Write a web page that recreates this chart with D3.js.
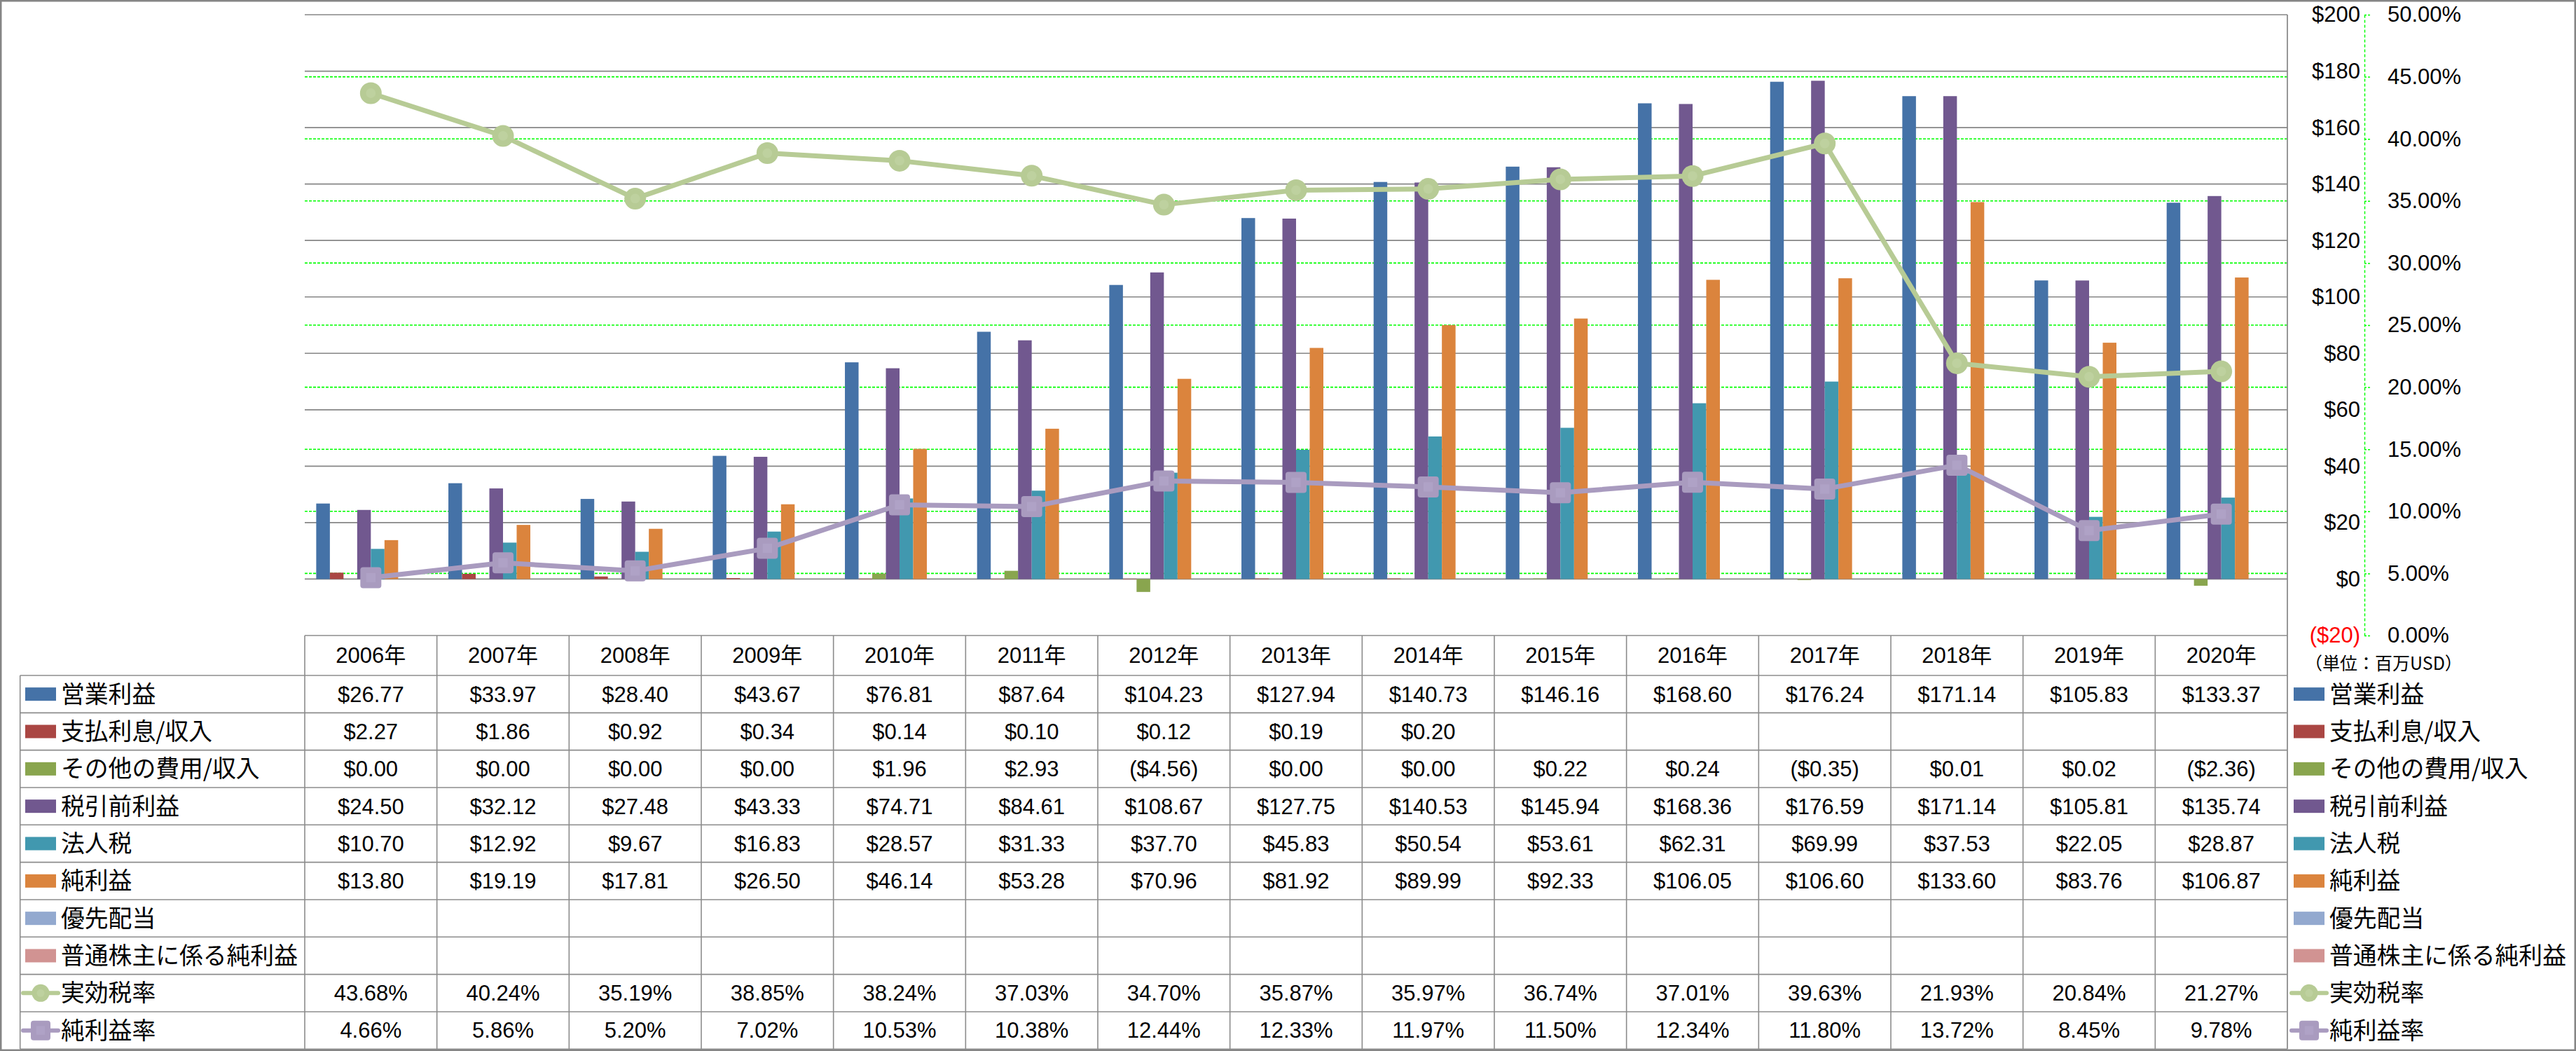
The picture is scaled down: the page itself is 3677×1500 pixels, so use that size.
<!DOCTYPE html>
<html><head><meta charset="utf-8">
<script src="https://cdn.jsdelivr.net/npm/d3@7"></script>
<style>
html,body{margin:0;padding:0;background:#fff;}
svg{display:block;}
text{font-family:"Liberation Sans","Noto Sans CJK JP",sans-serif;fill:#000;}
.jp{font-family:"Noto Sans CJK JP",sans-serif;}
</style></head><body>
<svg id="c" width="3677" height="1500"></svg>
<script>
// ---------------- data ----------------
const years = ["2006年","2007年","2008年","2009年","2010年","2011年","2012年","2013年","2014年","2015年","2016年","2017年","2018年","2019年","2020年"];
const barSeries = ["営業利益","支払利息/収入","その他の費用/収入","税引前利益","法人税","純利益","優先配当","普通株主に係る純利益"];
const lineSeries = ["実効税率","純利益率"];
const operatingIncome = [26.77,33.97,28.40,43.67,76.81,87.64,104.23,127.94,140.73,146.16,168.60,176.24,171.14,105.83,133.37];
const interestExpense = [2.27,1.86,0.92,0.34,0.14,0.10,0.12,0.19,0.20,null,null,null,null,null,null];
const otherExpense = [0.00,0.00,0.00,0.00,1.96,2.93,-4.56,0.00,0.00,0.22,0.24,-0.35,0.01,0.02,-2.36];
const pretaxIncome = [24.50,32.12,27.48,43.33,74.71,84.61,108.67,127.75,140.53,145.94,168.36,176.59,171.14,105.81,135.74];
const incomeTax = [10.70,12.92,9.67,16.83,28.57,31.33,37.70,45.83,50.54,53.61,62.31,69.99,37.53,22.05,28.87];
const netIncome = [13.80,19.19,17.81,26.50,46.14,53.28,70.96,81.92,89.99,92.33,106.05,106.60,133.60,83.76,106.87];
const preferredDividends = [null,null,null,null,null,null,null,null,null,null,null,null,null,null,null];
const commonNetIncome = [null,null,null,null,null,null,null,null,null,null,null,null,null,null,null];
const effectiveTaxRate = [43.68,40.24,35.19,38.85,38.24,37.03,34.70,35.87,35.97,36.74,37.01,39.63,21.93,20.84,21.27];
const netMargin = [4.66,5.86,5.20,7.02,10.53,10.38,12.44,12.33,11.97,11.50,12.34,11.80,13.72,8.45,9.78];
const dollarTicks = [-20,0,20,40,60,80,100,120,140,160,180,200];
const percentTicks = [0,5,10,15,20,25,30,35,40,45,50];
const unitLabel = "（単位：百万USD）";

// ---------------- styles ----------------
const barColors = ["#4572a7","#aa4643","#89a54e","#71588f","#4198af","#db843d","#93a9cf","#d19392"];
const lineColors = ["#b7cb95","#a99bbf"];
const barValues = [operatingIncome,interestExpense,otherExpense,pretaxIncome,incomeTax,netIncome,preferredDividends,commonNetIncome];
const lineValues = [effectiveTaxRate,netMargin];

const W = 3677, H = 1500;
const plot = {left:435, right:3265, top:21, bottom:907};
const tableTop = 907, headerBottom = 964, rowH = 53.33, tableLeft = 28.7;
const axisX = 3375;
const gridGray = "#868686", tableGray = "#8c8c8c", green = "#00ff00";
const numSize = 31, jpSize = 33.8;

const svg = d3.select("#c");

const x0 = d3.scaleBand().domain(years).range([plot.left, plot.right]);
const x1 = d3.scaleBand().domain(barSeries).range([0, x0.bandwidth()]).paddingOuter(0.84);
const yL = d3.scaleLinear().domain([-20,200]).range([plot.bottom, plot.top]);
const yR = d3.scaleLinear().domain([0,50]).range([plot.bottom, plot.top]);

// outer frame
svg.append("rect").attr("x",1.25).attr("y",1.25).attr("width",W-2.5).attr("height",H-2.5)
  .attr("fill","#fff").attr("stroke","#868686").attr("stroke-width",2.5);

// gray gridlines ($ axis)
svg.append("g").selectAll("line").data(dollarTicks.filter(d=>d>=0)).join("line")
  .attr("x1",plot.left).attr("x2",plot.right)
  .attr("y1",d=>yL(d)).attr("y2",d=>yL(d))
  .attr("stroke",gridGray).attr("stroke-width",1.7);

// green dashed gridlines (% axis)
svg.append("g").selectAll("line").data(percentTicks.filter(d=>d>0&&d<50)).join("line")
  .attr("x1",plot.left).attr("x2",plot.right)
  .attr("y1",d=>yR(d)).attr("y2",d=>yR(d))
  .attr("stroke",green).attr("stroke-width",1.6).attr("stroke-dasharray","4,2");

// bars
const barData = [];
barSeries.forEach((s,i)=>{
  barValues[i].forEach((v,j)=>{ if(v!==null) barData.push({s, i, year:years[j], v}); });
});
svg.append("g").selectAll("rect").data(barData).join("rect")
  .attr("x",d=>x0(d.year)+x1(d.s))
  .attr("width",x1.bandwidth())
  .attr("y",d=>yL(Math.max(0,d.v)))
  .attr("height",d=>Math.abs(yL(d.v)-yL(0)))
  .attr("fill",d=>barColors[d.i]);

// lines
function drawMarker(g, kind, color, cx, cy, size){
  if(kind===0){
    g.append("circle").attr("cx",cx).attr("cy",cy).attr("r",size/2).attr("fill",color);
    g.append("circle").attr("cx",cx).attr("cy",cy).attr("r",size/4.5).attr("fill","#bed19f");
  } else {
    g.append("rect").attr("x",cx-size/2).attr("y",cy-size/2).attr("width",size).attr("height",size)
      .attr("rx",4).attr("fill",color);
    g.append("rect").attr("x",cx-size/4.5).attr("y",cy-size/4.5).attr("width",size/2.25).attr("height",size/2.25)
      .attr("fill","#afa2c6");
  }
}
lineSeries.forEach((s,i)=>{
  const pts = lineValues[i].map((v,j)=>({x:x0(years[j])+x0.bandwidth()/2, y:yR(v)}));
  const g = svg.append("g");
  g.append("path").datum(pts)
    .attr("d",d3.line().x(d=>d.x).y(d=>d.y))
    .attr("fill","none").attr("stroke",lineColors[i]).attr("stroke-width",7)
    .attr("stroke-linejoin","round");
  pts.forEach(p=>drawMarker(g,i,lineColors[i],p.x,p.y,i===0?31:30));
});

// plot right border
svg.append("line").attr("x1",plot.right).attr("x2",plot.right).attr("y1",plot.top).attr("y2",headerBottom+10*rowH)
  .attr("stroke",gridGray).attr("stroke-width",1.7);

// $ axis labels
const fmtDollar = d => d<0 ? `($${-d})` : `$${d}`;
const axL = svg.append("g").attr("transform",`translate(${axisX},0)`)
  .call(d3.axisLeft(yL).tickValues(dollarTicks).tickSize(0).tickPadding(6).tickFormat(fmtDollar));
axL.select(".domain").remove();
axL.selectAll("text").attr("font-size",numSize).attr("font-family",null)
  .style("fill",d=>d<0?"#ff0000":"#000");

// % axis
const axR = svg.append("g").attr("transform",`translate(${axisX},0)`)
  .call(d3.axisRight(yR).tickValues(percentTicks).tickSize(9).tickSizeOuter(0).tickPadding(24).tickFormat(d=>d.toFixed(2)+"%"));
axR.select(".domain").attr("stroke",green).attr("stroke-width",1.5).attr("stroke-dasharray","4,3");
axR.selectAll(".tick line").attr("stroke",green).attr("stroke-width",1.5).attr("stroke-dasharray","3,2");
axR.selectAll("text").attr("font-size",numSize).attr("font-family",null).style("fill","#000");

// unit label
svg.append("text").attr("class","jp").attr("x",3290).attr("y",947).attr("dy","0.35em")
  .attr("font-size",25).text(unitLabel);

// ---------------- data table ----------------
const tg = svg.append("g");
const rowsCount = barSeries.length + lineSeries.length;
const tableBottom = headerBottom + rowsCount*rowH;
tg.append("line").attr("x1",plot.left).attr("x2",plot.right).attr("y1",tableTop).attr("y2",tableTop)
  .attr("stroke",tableGray).attr("stroke-width",1.6);
tg.selectAll("line.h").data(d3.range(rowsCount+1)).join("line").attr("class","h")
  .attr("x1",tableLeft).attr("x2",plot.right)
  .attr("y1",i=>headerBottom+i*rowH).attr("y2",i=>headerBottom+i*rowH)
  .attr("stroke",tableGray).attr("stroke-width",1.6);
tg.selectAll("line.v").data(years).join("line").attr("class","v")
  .attr("x1",d=>x0(d)).attr("x2",d=>x0(d)).attr("y1",tableTop).attr("y2",tableBottom)
  .attr("stroke",tableGray).attr("stroke-width",1.6);
tg.append("line").attr("x1",tableLeft).attr("x2",tableLeft).attr("y1",headerBottom).attr("y2",tableBottom)
  .attr("stroke",tableGray).attr("stroke-width",1.6);

tg.selectAll("text.yr").data(years).join("text").attr("class","yr")
  .attr("x",d=>x0(d)+x0.bandwidth()/2).attr("y",(tableTop+headerBottom)/2).attr("dy","0.35em")
  .attr("text-anchor","middle").attr("font-size",numSize).text(d=>d);

const fmtMoney = v => v===null ? "" : (v<0 ? `($${(-v).toFixed(2)})` : `$${v.toFixed(2)}`);
const fmtPct = v => v===null ? "" : v.toFixed(2)+"%";
const tableRows = barSeries.map((s,i)=>({name:s, kind:"bar", idx:i, values:barValues[i], fmt:fmtMoney}))
  .concat(lineSeries.map((s,i)=>({name:s, kind:"line", idx:i, values:lineValues[i], fmt:fmtPct})));

function legendKey(g, r, x, cy){
  if(r.kind==="bar"){
    g.append("rect").attr("x",x+3).attr("y",cy-9.5).attr("width",44).attr("height",19).attr("fill",barColors[r.idx]);
  } else {
    g.append("line").attr("x1",x).attr("x2",x+50).attr("y1",cy).attr("y2",cy)
      .attr("stroke",lineColors[r.idx]).attr("stroke-width",6).attr("stroke-linecap","round");
    drawMarker(g, r.idx, lineColors[r.idx], x+25, cy, r.idx===0?25:28);
  }
}

tableRows.forEach((r,ri)=>{
  const cy = headerBottom + ri*rowH + rowH/2;
  const g = tg.append("g");
  legendKey(g, r, 33, cy);
  g.append("text").attr("class","jp").attr("x",87).attr("y",cy).attr("dy","0.36em")
    .attr("font-size",jpSize).text(r.name);
  g.selectAll("text.val").data(r.values).join("text").attr("class","val")
    .attr("x",(v,j)=>x0(years[j])+x0.bandwidth()/2).attr("y",cy).attr("dy","0.35em")
    .attr("text-anchor","middle").attr("font-size",numSize).text(v=>r.fmt(v));
  legendKey(g, r, 3271, cy);
  g.append("text").attr("class","jp").attr("x",3325).attr("y",cy).attr("dy","0.36em")
    .attr("font-size",jpSize).text(r.name);
});
</script>
</body></html>
